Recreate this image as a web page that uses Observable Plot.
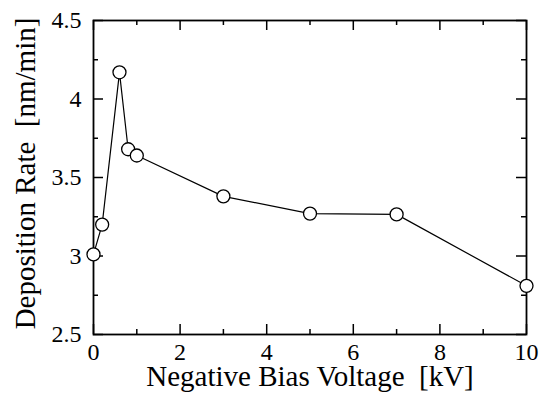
<!DOCTYPE html>
<html>
<head>
<meta charset="utf-8">
<script src="https://cdn.jsdelivr.net/npm/d3@7"></script>
<script src="https://cdn.jsdelivr.net/npm/@observablehq/plot@0.6"></script>
<style>
  html, body { margin: 0; padding: 0; background: #fff; }
  svg text { white-space: pre; font-family: "Liberation Serif", "Times New Roman", serif !important; }
</style>
</head>
<body>
<div id="chart"></div>
<script>
// Data
const biasVoltage = [0, 0.2, 0.6, 0.8, 1.0, 3, 5, 7, 10];
const depositionRate = [3.01, 3.20, 4.17, 3.68, 3.64, 3.38, 3.27, 3.265, 2.81];
const xMajorTicks = [0, 2, 4, 6, 8, 10];
const xMinorTicks = [1, 3, 5, 7, 9];
const yMajorTicks = [2.5, 3, 3.5, 4, 4.5];
const yMinorTicks = [2.75, 3.25, 3.75, 4.25];
const xTitle = "Negative Bias Voltage  [kV]";
const yTitle = "Deposition Rate  [nm/min]";

const data = biasVoltage.map((v, i) => ({v, r: depositionRate[i]}));

const W = 541, H = 403;
const mL = 93, mR = 15, mT = 20, mB = 69;
const pw = W - mL - mR, ph = H - mT - mB;
const majorLen = 10, minorLen = 5;

const chart = Plot.plot({
  width: W,
  height: H,
  marginLeft: mL,
  marginRight: mR,
  marginTop: mT,
  marginBottom: mB,
  style: {fontFamily: "Liberation Serif, serif", fontSize: "24px", color: "black", background: "white"},
  x: {domain: [0, 10]},
  y: {domain: [2.5, 4.5]},
  marks: [
    Plot.axisX(xMajorTicks, {tickSize: 0, tickPadding: 8, label: null, fontSize: 24}),
    Plot.axisY(yMajorTicks, {tickSize: 0, tickPadding: 12, label: null, fontSize: 24, tickFormat: d => String(d)}),
    // inward ticks: bottom & top
    Plot.tickX(xMajorTicks, {x: d => d, insetTop: ph - majorLen, strokeWidth: 1.5}),
    Plot.tickX(xMinorTicks, {x: d => d, insetTop: ph - minorLen, strokeWidth: 1.5}),
    Plot.tickX(xMajorTicks, {x: d => d, insetBottom: ph - majorLen, strokeWidth: 1.5}),
    Plot.tickX(xMinorTicks, {x: d => d, insetBottom: ph - minorLen, strokeWidth: 1.5}),
    // inward ticks: left & right
    Plot.tickY(yMajorTicks, {y: d => d, insetRight: pw - majorLen, strokeWidth: 1.5}),
    Plot.tickY(yMinorTicks, {y: d => d, insetRight: pw - minorLen, strokeWidth: 1.5}),
    Plot.tickY(yMajorTicks, {y: d => d, insetLeft: pw - majorLen, strokeWidth: 1.5}),
    Plot.tickY(yMinorTicks, {y: d => d, insetLeft: pw - minorLen, strokeWidth: 1.5}),
    Plot.frame({stroke: "black", strokeWidth: 1.8}),
    Plot.line(data, {x: "v", y: "r", stroke: "black", strokeWidth: 1.2}),
    Plot.dot(data, {x: "v", y: "r", r: 6.5, fill: "white", stroke: "black", strokeWidth: 1.3}),
    Plot.text([xTitle], {frameAnchor: "bottom", dy: 42, fontSize: 29, lineAnchor: "middle", textAnchor: "middle", fill: "black"}),
    Plot.text([yTitle], {frameAnchor: "left", rotate: -90, dx: -68, dy: -4, fontSize: 29, lineAnchor: "middle", textAnchor: "middle", fill: "black"})
  ]
});

document.getElementById("chart").appendChild(chart);
</script>
</body>
</html>
